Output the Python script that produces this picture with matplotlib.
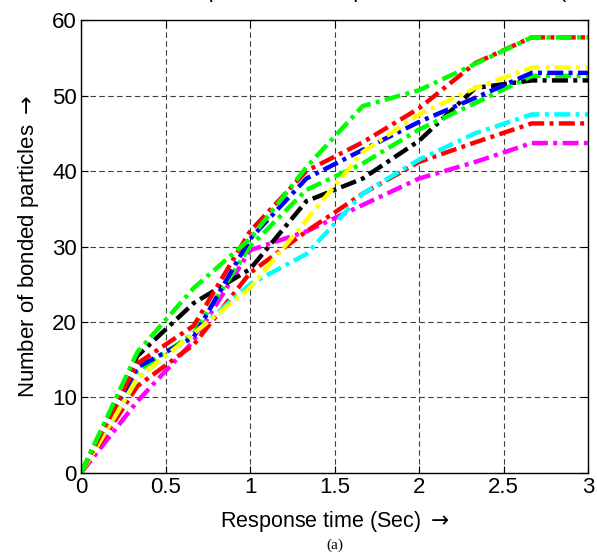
import matplotlib.pyplot as plt
import numpy as np

# response time samples (Sec)
t = [0, 1/3, 2/3, 1, 4/3, 5/3, 2, 7/3, 8/3, 3]

# number of bonded particles per run
green1 = [0, 16, 24.5, 31, 40.5, 48.6, 50.7, 54.2, 57.7, 57.7]
red1 = [0, 14.5, 19.5, 32, 40, 43.8, 48.3, 54.3, 57.7, 57.7]
blue = [0, 14, 18, 31, 39, 42.8, 46.5, 49.7, 53.0, 53.0]
yellow = [0, 12.5, 18.5, 24.5, 33.5, 42.5, 47.5, 51, 53.7, 53.7]
green2 = [0, 13.5, 18.5, 30, 37.5, 41, 45.5, 49, 52.6, 52.6]
black = [0, 15.5, 22.5, 27, 36, 39, 44, 51, 52, 52]
cyan = [0, 12.5, 18.5, 25, 29, 37, 41.5, 45, 47.5, 47.5]
red2 = [0, 11.5, 17, 26.5, 32, 37, 41.2, 43.8, 46.3, 46.3]
magenta = [0, 9.5, 17.5, 29.5, 32, 35.5, 39, 41.2, 43.7, 43.7]

G = (0, 1, 0)
series = [
    (magenta, (1, 0, 1)),
    (red2, (1, 0, 0)),
    (cyan, (0, 1, 1)),
    (black, (0, 0, 0)),
    (green2, G),
    (blue, (0, 0, 1)),
    (yellow, (1, 1, 0)),
    (red1, (1, 0, 0)),
    (green1, G),
]

plt.rcParams['font.family'] = ['Liberation Sans', 'DejaVu Sans']
plt.rcParams['mathtext.fontset'] = 'dejavusans'

fig = plt.figure(figsize=(5.97, 5.56), dpi=100)
ax = fig.add_axes([0.1357, 0.1493, 0.8493, 0.8147])

for vals, col in series:
    ax.plot(t, vals, color=col, linewidth=3.2,
            linestyle=(0, (3.6, 1.2, 0.9, 1.2)), dash_capstyle='butt')

ax.set_xlim(0, 3)
ax.set_ylim(0, 60)
ax.set_xticks(np.arange(0, 3.01, 0.5))
ax.set_xticklabels(['0', '0.5', '1', '1.5', '2', '2.5', '3'])
ax.set_yticks(np.arange(0, 61, 10))
ax.tick_params(direction='in', top=True, right=True, labelsize=16,
               length=5, width=0.8, pad=3)
ax.grid(True, color='0.25', linestyle=(0, (5, 3)), linewidth=0.8)
ax.set_axisbelow(True)
for s in ax.spines.values():
    s.set_linewidth(1.0)

ax.set_xlabel(r'Response time (Sec) $\rightarrow$', fontsize=15.5, labelpad=8)
ax.set_ylabel(r'Number of bonded particles $\rightarrow$', fontsize=16, labelpad=8)

fig.text(0.561, 0.019, '(a)', ha='center', va='center', fontsize=11,
         family=['Liberation Serif', 'DejaVu Serif'])

# title cut off at the top edge of the image
fig.text(0.05, 1.004, 'Number of bonded particles vs. response time for N = 60 (MHC-II)',
         ha='left', va='baseline', fontsize=15)

fig.savefig('out.png', dpi=100)
